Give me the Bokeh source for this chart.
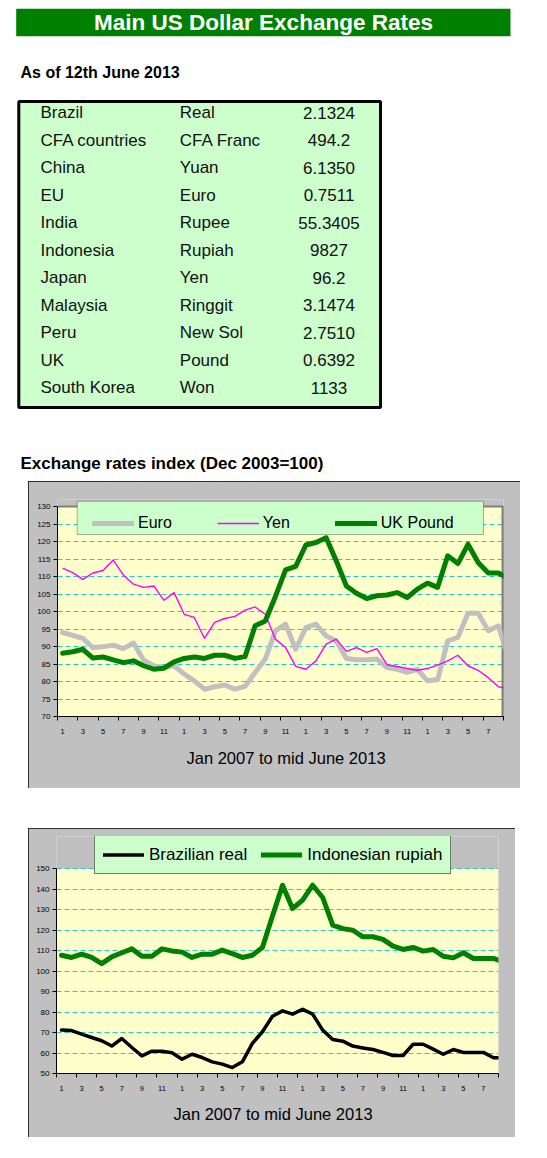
from bokeh.plotting import figure
from bokeh.layouts import column
from bokeh.models import (Range1d, FixedTicker, Legend, LegendItem, Title,
                          BoxAnnotation, ColumnDataSource)
from bokeh.core.properties import value
from bokeh.embed import file_html
from bokeh.resources import INLINE

FONT = "Liberation Sans"

# ---------------- data ----------------
countries = ["Brazil", "CFA countries", "China", "EU", "India", "Indonesia",
             "Japan", "Malaysia", "Peru", "UK", "South Korea"]
currencies = ["Real", "CFA Franc", "Yuan", "Euro", "Rupee", "Rupiah",
              "Yen", "Ringgit", "New Sol", "Pound", "Won"]
rates = ["2.1324", "494.2", "6.1350", "0.7511", "55.3405", "9827",
         "96.2", "3.1474", "2.7510", "0.6392", "1133"]

# month categories on the x axis (labels every other month)
month_labels = [str(m) for m in list(range(1, 13)) * 3 + list(range(1, 9))]

euro = [94.0, 93.2, 92.3, 89.7, 89.9, 90.4, 89.4, 91.0, 86.1, 84.5, 84.0, 84.5,
        82.1, 80.2, 77.8, 78.5, 79.0, 77.8, 78.6, 82.6, 86.4, 94.5, 96.4, 89.2,
        95.4, 96.4, 93.0, 91.6, 86.6, 86.2, 86.2, 86.4, 84.0, 83.5, 82.6, 83.5,
        80.2, 80.5, 91.6, 92.6, 99.5, 99.5, 94.5, 95.9, 86.3]
yen = [112.4, 111.1, 109.2, 111.0, 111.7, 114.7, 110.4, 107.8, 106.9, 107.3, 103.2, 105.4,
       99.2, 98.3, 92.3, 96.9, 98.0, 98.6, 100.4, 101.3, 99.2, 92.1, 89.7, 84.3,
       83.5, 85.9, 90.7, 92.1, 88.6, 89.7, 88.3, 89.4, 84.8, 84.3, 83.7, 83.2,
       83.7, 84.7, 85.9, 87.5, 84.5, 83.2, 81.1, 78.5, 77.9]
uk_pound = [88.1, 88.5, 89.2, 86.7, 87.0, 86.2, 85.4, 85.9, 84.5, 83.5, 83.8, 85.6,
            86.6, 87.0, 86.6, 87.5, 87.5, 86.6, 87.1, 95.9, 97.3, 104.3, 111.9, 112.9,
            119.0, 119.7, 121.1, 114.5, 107.3, 105.2, 103.7, 104.5, 104.7, 105.4, 104.0, 106.4,
            108.1, 106.9, 115.9, 113.7, 119.2, 114.0, 111.0, 111.0, 109.4]

brazil_real = [71.2, 71.0, 69.2, 67.6, 66.0, 63.4, 67.1, 62.7, 58.6, 60.9, 60.9, 60.1,
               57.0, 59.4, 57.8, 55.7, 54.6, 52.9, 55.7, 64.7, 70.4, 78.0, 80.6, 79.0,
               81.4, 79.0, 71.2, 66.6, 65.8, 63.4, 62.5, 61.7, 60.3, 58.8, 58.8, 64.3,
               64.3, 61.9, 59.4, 61.7, 60.3, 60.3, 60.3, 57.7, 57.7]
indonesian_rupiah = [107.8, 106.7, 108.3, 106.7, 103.7, 107.0, 109.0, 110.9, 107.3, 107.3, 110.9, 109.9,
                     109.3, 106.7, 108.3, 108.3, 110.3, 108.6, 106.7, 107.8, 111.6, 127.0, 142.0, 130.6,
                     134.7, 142.0, 136.0, 122.5, 120.8, 120.0, 116.8, 116.8, 115.5, 112.2, 110.6, 111.6,
                     109.8, 110.6, 107.3, 106.5, 109.0, 106.2, 106.2, 106.2, 104.6]

y1_ticks = list(range(70, 131, 5))
y2_ticks = list(range(50, 151, 10))

PLOT_BG = "#FFFFCC"
CHART_BG = "#C0C0C0"
GRID = "#22CCCC"

# ---------------- top block: title + table ----------------
top = figure(width=531, height=478, x_range=Range1d(0, 531), y_range=Range1d(478, 0),
             x_axis_type=None, y_axis_type=None, min_border=0, frame_align=False,
             output_backend="svg", toolbar_location=None,
             outline_line_color=None, background_fill_color="white",
             border_fill_color="white")
top.grid.visible = False
top.margin = (0, 0, 0, 0)

top.quad(left=[15.7], right=[510], top=[8.3], bottom=[35.7],
         fill_color="#008000", line_color=None)
top.text(x=[263], y=[21.6], text=["Main US Dollar Exchange Rates"],
         text_font=value(FONT), text_font_size="22.5px", text_font_style="bold",
         text_color="white", text_align="center", text_baseline="middle")
top.text(x=[20], y=[71.7], text=["As of 12th June 2013"],
         text_font=value(FONT), text_font_size="16px", text_font_style="bold",
         text_color="black", text_align="left", text_baseline="middle")

top.quad(left=[18.3], right=[380], top=[101], bottom=[407],
         fill_color="#CCFFCC", line_color="black", line_width=3)
row_y = [112.4 + 27.5 * k for k in range(len(countries))]
tsrc = ColumnDataSource(dict(y=row_y, c=countries, cur=currencies, r=rates))
common = dict(source=tsrc, y="y", text_font=value(FONT), text_font_size="17px",
              text_color="#111111", text_baseline="middle")
top.text(x=40, text="c", text_align="left", **common)
top.text(x=179.3, text="cur", text_align="left", **common)
top.text(x=328.5, text="r", text_align="center", **common)

top.text(x=[20], y=[462.6], text=["Exchange rates index (Dec 2003=100)"],
         text_font=value(FONT), text_font_size="17px", text_font_style="bold",
         text_color="black", text_align="left", text_baseline="middle")


# ---------------- helpers for the two line charts ----------------
def style_axes(p, y_ticks, grid_ticks):
    n = len(month_labels)
    label_pos = list(range(1, n + 1, 2))
    boundaries = [0.5 + 2 * k for k in range(n // 2 + 1)]
    p.xaxis.ticker = FixedTicker(ticks=label_pos, minor_ticks=boundaries)
    p.xaxis.major_label_overrides = {i: month_labels[i - 1] for i in label_pos}
    p.xaxis.major_tick_line_color = None
    p.xaxis.major_tick_out = 4
    p.xaxis.major_tick_in = 0
    p.xaxis.minor_tick_line_color = "black"
    p.xaxis.minor_tick_out = 4
    p.xaxis.minor_tick_in = 0
    p.xaxis.major_label_standoff = 8
    p.xaxis.major_label_text_font = FONT
    p.xaxis.major_label_text_font_size = "7.5px"
    p.xaxis.major_label_text_color = "black"
    p.xaxis.axis_line_color = "black"

    p.yaxis.ticker = FixedTicker(ticks=y_ticks, minor_ticks=[])
    p.yaxis.bounds = (y_ticks[0], y_ticks[-1])
    p.yaxis.major_tick_out = 4
    p.yaxis.major_tick_in = 0
    p.yaxis.major_tick_line_color = "black"
    p.yaxis.minor_tick_line_color = None
    p.yaxis.major_label_standoff = 3
    p.yaxis.major_label_text_font = FONT
    p.yaxis.major_label_text_font_size = "8px"
    p.yaxis.major_label_text_color = "black"
    p.yaxis.axis_line_color = "black"

    p.xgrid.visible = False
    p.ygrid.ticker = FixedTicker(ticks=grid_ticks, minor_ticks=[])
    p.ygrid.grid_line_color = GRID
    p.ygrid.grid_line_dash = "5 3"
    p.ygrid.grid_line_width = 1

    # plot-area (yellow) only between the first and last value tick
    p.quad(left=[0.5], right=[44.5], bottom=[y_ticks[0]], top=[y_ticks[-1]],
           fill_color=PLOT_BG, line_color=None, level="image")


def x_title(p, offset, standoff):
    p.add_layout(Title(text="Jan 2007 to mid June 2013", align="left", offset=offset,
                       standoff=standoff, vertical_align="top",
                       text_font=FONT, text_font_size="16.5px",
                       text_font_style="normal", text_color="black"), "below")


x_idx = list(range(1, len(euro) + 1))

# ---------------- chart 1 ----------------
src1 = ColumnDataSource(dict(x=x_idx, euro=euro, yen=yen, uk=uk_pound))

c1 = figure(width=492, height=307, x_range=Range1d(0.5, 44.5), y_range=Range1d(70, 132),
            min_border_left=29, min_border_right=17, min_border_top=18, min_border_bottom=72,
            background_fill_color=CHART_BG, border_fill_color=CHART_BG,
            outline_line_color=None, frame_align=False,
            output_backend="svg", toolbar_location=None)
c1.margin = (3, 0, 0, 28)
c1.styles = {"outline": "1px solid black", "outline-offset": "-1px"}
style_axes(c1, y1_ticks, [t for t in y1_ticks if 70 < t < 130])

# grey plot-area border on top and right
c1.line(x=[0.5, 44.5, 44.5], y=[130, 130, 70], line_color="#808080", line_width=2)
c1.line(x=[44.5, 44.5], y=[130, 70], line_color="#808080", line_width=4)

r_eu = c1.line("x", "euro", source=src1, line_color="#C0C0C0", line_width=5,
               line_join="round", line_cap="round")
r_yen = c1.line("x", "yen", source=src1, line_color="#FF00FF", line_width=1.4)
r_uk = c1.line("x", "uk", source=src1, line_color="#008000", line_width=5,
               line_join="round", line_cap="round")

c1.add_layout(BoxAnnotation(left=48.7, right=455, top=19.7, bottom=53,
                            left_units="canvas", right_units="canvas",
                            top_units="canvas", bottom_units="canvas",
                            fill_color="#CCFFCC", fill_alpha=1,
                            line_color="black", line_width=1))
leg1 = Legend(items=[LegendItem(label="Euro", renderers=[r_eu]),
                     LegendItem(label="Yen", renderers=[r_yen]),
                     LegendItem(label="UK Pound", renderers=[r_uk])],
              orientation="horizontal", location=(35, 183), padding=6, spacing=45,
              glyph_width=42, glyph_height=20, label_height=20, label_standoff=4,
              label_text_font=FONT, label_text_font_size="16px", label_text_color="black",
              background_fill_alpha=0, border_line_color=None, margin=0)
c1.add_layout(leg1)
x_title(c1, 129, 24)

# ---------------- chart 2 ----------------
src2 = ColumnDataSource(dict(x=x_idx, br=brazil_real, idr=indonesian_rupiah))
c2 = figure(width=487, height=309, x_range=Range1d(0.5, 44.5), y_range=Range1d(50, 165.8),
            min_border_left=28, min_border_right=17, min_border_top=8, min_border_bottom=64,
            background_fill_color=CHART_BG, border_fill_color=CHART_BG,
            outline_line_color=None, frame_align=False,
            output_backend="svg", toolbar_location=None)
c2.margin = (40, 0, 0, 28)
c2.styles = {"outline": "1px solid black", "outline-offset": "-1px"}
style_axes(c2, y2_ticks, [t for t in y2_ticks if t > 50])

r_br = c2.line("x", "br", source=src2, line_color="black", line_width=3.5,
               line_join="round", line_cap="round")
r_id = c2.line("x", "idr", source=src2, line_color="#008000", line_width=5,
               line_join="round", line_cap="round")

leg2 = Legend(items=[LegendItem(label="Brazilian real", renderers=[r_br]),
                     LegendItem(label="Indonesian rupiah", renderers=[r_id])],
              orientation="horizontal", location=(38, 199), padding=8, spacing=14,
              glyph_width=41, glyph_height=21, label_height=21, label_standoff=5,
              label_text_font=FONT, label_text_font_size="17px", label_text_color="black",
              background_fill_color="#CCFFCC", background_fill_alpha=1,
              border_line_color="black", border_line_width=1, margin=0)
c2.add_layout(leg2)
x_title(c2, 117, 22)

layout = column(top, c1, c2, spacing=0)
open("out.html", "w").write(file_html(layout, INLINE))
